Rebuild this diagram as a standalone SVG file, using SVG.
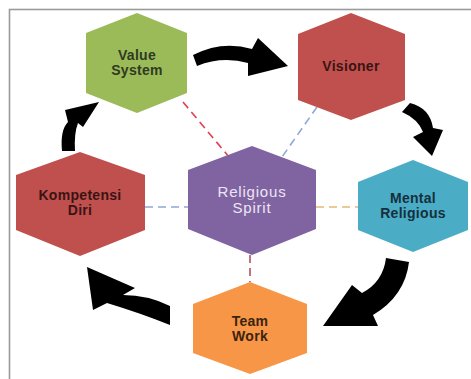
<svg xmlns="http://www.w3.org/2000/svg" width="471" height="379" viewBox="0 0 471 379">
<style>
text{font-family:"Liberation Sans",Arial,sans-serif;font-size:14px;font-weight:bold;letter-spacing:0.3px;text-anchor:middle}
.dash{fill:none;stroke-width:1.6;stroke-dasharray:8 5}
.arr{fill:#000}
</style>
<rect x="0" y="0" width="471" height="379" fill="#ffffff"/>
<rect x="9.5" y="9.5" width="480" height="400" fill="none" stroke="#9a9a9a" stroke-width="1.6"/>
<g id="connectors">
<line class="dash" x1="183" y1="102" x2="229" y2="157" stroke="#e0404f"/>
<line class="dash" x1="317" y1="107" x2="282" y2="157" stroke="#8fa8d8"/>
<line class="dash" x1="145" y1="207" x2="188" y2="207" stroke="#8fa8d8"/>
<line class="dash" x1="316" y1="207" x2="358" y2="207" stroke="#e8b878"/>
<line class="dash" x1="250" y1="255" x2="250" y2="282" stroke="#b05060"/>
<path class="arr" d="M193,55 Q222,40 252,49 L258,38 L288,66 L248,76 L248,63 Q222,56 197,66 Z"/>
<path class="arr" d="M410,103 Q430,108 433,128 L443,130 L432,156 L413,137 L423,132 Q418,119 402,112 Z"/>
<path class="arr" d="M386,258 L409,262 Q405,296 373,315 L378,326 L323,326 L352,285 L362,293 Q383,282 386,258 Z"/>
<path class="arr" d="M170,325 Q140,313 107,303 L93,310 L87,267 L135,288 L123,295 Q148,295 170,306 Z"/>
<path class="arr" d="M62,151 Q60,130 68,122 L65,110 L99,102 L83,127 L78,123 Q74,133 75,151 Z"/>
</g>
<g id="value-system">
<polygon points="137,13 187,33 187,93 137,113 86,93 86,33" fill="#9bbb59"/>
<text x="137" y="59.5" fill="#2f3a22">Value</text>
<text x="137" y="74.5" fill="#2f3a22">System</text>
</g>
<g id="visioner">
<polygon points="351,13 405,34 405,100 351,120 298,100 298,34" fill="#c0504d"/>
<text x="351" y="71" fill="#3a1414">Visioner</text>
</g>
<g id="religious-spirit">
<polygon points="252,146 316,170 316,229 252,255 188,229 188,170" fill="#8064a2"/>
<text x="252" y="196.5" fill="#ece6f4" style="font-size:15px;font-weight:normal;letter-spacing:0.8px">Religious</text>
<text x="252" y="212.5" fill="#ece6f4" style="font-size:15px;font-weight:normal;letter-spacing:0.8px">Spirit</text>
</g>
<g id="kompetensi-diri">
<polygon points="80,152 145,175 145,230 80,256 16,230 16,175" fill="#c0504d"/>
<text x="80" y="199.5" fill="#3a1414">Kompetensi</text>
<text x="80" y="214.5" fill="#3a1414">Diri</text>
</g>
<g id="mental-religious">
<polygon points="413,160 468,182 468,230 413,252 358,230 358,182" fill="#4bacc6"/>
<text x="413" y="202.5" fill="#15303c">Mental</text>
<text x="413" y="217.5" fill="#15303c">Religious</text>
</g>
<g id="team-work">
<polygon points="250,282 307,304 307,353 250,374 193,353 193,304" fill="#f79646"/>
<text x="250" y="325.5" fill="#3a2410">Team</text>
<text x="250" y="340.5" fill="#3a2410">Work</text>
</g>
</svg>
